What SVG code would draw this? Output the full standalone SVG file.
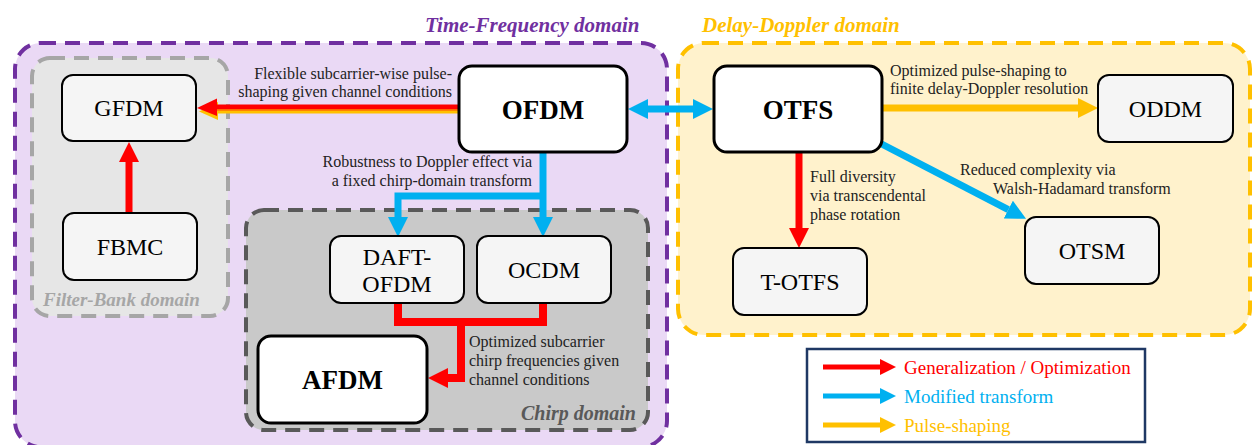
<svg xmlns="http://www.w3.org/2000/svg" width="1252" height="445" viewBox="0 0 1252 445">
<style>
.dom{stroke-width:4;stroke-dasharray:15 9}
.node{fill:#F5F5F5;stroke:#000;stroke-width:2}
.main{fill:#FFFFFF;stroke:#000;stroke-width:3}
.nt{font-family:"Liberation Serif",serif;font-size:24px;fill:#000;text-anchor:middle}
.bt{font-family:"Liberation Serif",serif;font-size:27px;font-weight:bold;fill:#000;text-anchor:middle}
.lbl{font-family:"Liberation Serif",serif;font-size:16px;fill:#222}
.ttl{font-family:"Liberation Serif",serif;font-weight:bold;font-style:italic}
.lg{font-family:"Liberation Serif",serif;font-size:19px}
.r{stroke:#FF0000;fill:none}
.b{stroke:#00B0F0;fill:none}
.y{stroke:#FFC000;fill:none}
</style>
<defs>
<marker id="hr" markerUnits="userSpaceOnUse" markerWidth="20" markerHeight="20" refX="0" refY="10" orient="auto"><path d="M0,0 L20,10 L0,20 z" fill="#FF0000"/></marker>
<marker id="hb" markerUnits="userSpaceOnUse" markerWidth="20" markerHeight="20" refX="0" refY="10" orient="auto-start-reverse"><path d="M0,0 L20,10 L0,20 z" fill="#00B0F0"/></marker>
<marker id="hy" markerUnits="userSpaceOnUse" markerWidth="20" markerHeight="20" refX="0" refY="10" orient="auto"><path d="M0,0 L20,10 L0,20 z" fill="#FFC000"/></marker>
<marker id="lr" markerUnits="userSpaceOnUse" markerWidth="16" markerHeight="16" refX="0" refY="8" orient="auto"><path d="M0,0 L16,8 L0,16 z" fill="#FF0000"/></marker>
<marker id="lb" markerUnits="userSpaceOnUse" markerWidth="16" markerHeight="16" refX="0" refY="8" orient="auto"><path d="M0,0 L16,8 L0,16 z" fill="#00B0F0"/></marker>
<marker id="ly" markerUnits="userSpaceOnUse" markerWidth="16" markerHeight="16" refX="0" refY="8" orient="auto"><path d="M0,0 L16,8 L0,16 z" fill="#FFC000"/></marker>
</defs>

<g id="domains">
<g id="tf-domain">
<rect x="15" y="43" width="652" height="404" rx="26" fill="#EAD9F5" stroke="#7030A0" class="dom"/>
<text x="425" y="32" class="ttl" font-size="21" fill="#7030A0">Time-Frequency domain</text>
</g>
<g id="dd-domain">
<rect x="678" y="43" width="572" height="292" rx="26" fill="#FFF2CC" stroke="#FFC000" class="dom"/>
<text x="702" y="32" class="ttl" font-size="21" fill="#FFC000">Delay-Doppler domain</text>
</g>
<g id="fb-domain">
<rect x="32" y="58" width="196" height="258" rx="18" fill="#E6E6E6" stroke="#A6A6A6" class="dom"/>
<text x="43" y="306" class="ttl" font-size="19" fill="#A6A6A6">Filter-Bank domain</text>
</g>
<g id="chirp-domain">
<rect x="246" y="210" width="402" height="220" rx="18" fill="#C9C9C9" stroke="#595959" class="dom"/>
<text x="636" y="420" class="ttl" font-size="20" fill="#595959" text-anchor="end">Chirp domain</text>
</g>
</g>

<g id="connectors">
<!-- OFDM -> GFDM (mixed) -->
<line x1="460" y1="111" x2="218" y2="111" stroke="#FFC000" stroke-width="5"/>
<path d="M218,102 L199,111.5 L218,120 z" fill="#FFC000"/>
<line x1="460" y1="107.5" x2="217" y2="107.5" stroke="#FF0000" stroke-width="6"/>
<line x1="460" y1="110" x2="217" y2="110" stroke="#FF8C00" stroke-width="1.5"/>
<path d="M217,98.5 L197,108 L217,116 z" fill="#FF0000"/>
<!-- FBMC -> GFDM -->
<line x1="129" y1="214" x2="129" y2="162" class="r" stroke-width="7" marker-end="url(#hr)"/>
<!-- OFDM <-> OTFS -->
<line x1="648" y1="109" x2="693" y2="109" class="b" stroke-width="7" marker-start="url(#hb)" marker-end="url(#hb)"/>
<!-- OFDM -> OCDM / DAFT-OFDM -->
<path d="M543,150 V217" class="b" stroke-width="7" marker-end="url(#hb)"/>
<path d="M543,196 H398 V217" class="b" stroke-width="7" marker-end="url(#hb)"/>
<!-- DAFT/OCDM -> AFDM -->
<path d="M398,302 V322 H543 V302" class="r" stroke-width="8" stroke-linejoin="miter"/>
<path d="M461,322 V378 H448" class="r" stroke-width="8" marker-end="url(#hr)"/>
<!-- OTFS -> ODDM -->
<line x1="880" y1="108" x2="1078" y2="108" class="y" stroke-width="7" marker-end="url(#hy)"/>
<!-- OTFS -> T-OTFS -->
<line x1="799" y1="150" x2="799" y2="228" class="r" stroke-width="7" marker-end="url(#hr)"/>
<!-- OTFS -> OTSM -->
<line x1="872" y1="139" x2="1008.3" y2="209.6" class="b" stroke-width="7" marker-end="url(#hb)"/>
</g>

<g id="labels" class="lbl">
<text x="452" y="79" text-anchor="end">Flexible subcarrier-wise pulse-</text>
<text x="452" y="97" text-anchor="end">shaping given channel conditions</text>
<text x="532" y="167" text-anchor="end">Robustness to Doppler effect via</text>
<text x="532" y="186" text-anchor="end">a fixed chirp-domain transform</text>
<text x="469" y="347">Optimized subcarrier</text>
<text x="469" y="366">chirp frequencies given</text>
<text x="469" y="385">channel conditions</text>
<text x="890" y="76">Optimized pulse-shaping to</text>
<text x="890" y="94">finite delay-Doppler resolution</text>
<text x="810" y="182">Full diversity</text>
<text x="810" y="201">via transcendental</text>
<text x="810" y="220">phase rotation</text>
<text x="960" y="175">Reduced complexity via</text>
<text x="993" y="194">Walsh-Hadamard transform</text>
</g>

<g id="GFDM"><rect x="62" y="75" width="134" height="66" rx="11" class="node"/><text x="129" y="116" class="nt">GFDM</text></g>
<g id="FBMC"><rect x="63" y="213" width="134" height="67" rx="11" class="node"/><text x="130" y="255" class="nt">FBMC</text></g>
<g id="OFDM"><rect x="459" y="66" width="168" height="86" rx="13" class="main"/><text x="543" y="119" class="bt">OFDM</text></g>
<g id="OTFS"><rect x="714" y="66" width="168" height="86" rx="13" class="main"/><text x="798" y="119" class="bt">OTFS</text></g>
<g id="ODDM"><rect x="1098" y="75" width="135" height="67" rx="11" class="node"/><text x="1165.5" y="117" class="nt">ODDM</text></g>
<g id="T-OTFS"><rect x="733" y="248" width="134" height="67" rx="11" class="node"/><text x="800" y="290" class="nt">T-OTFS</text></g>
<g id="OTSM"><rect x="1025" y="217" width="134" height="67" rx="11" class="node"/><text x="1092" y="259" class="nt">OTSM</text></g>
<g id="DAFT-OFDM"><rect x="330" y="236" width="134" height="67" rx="11" class="node"/><text x="397" y="265" class="nt">DAFT-</text><text x="397" y="292" class="nt">OFDM</text></g>
<g id="OCDM"><rect x="477" y="236" width="134" height="67" rx="11" class="node"/><text x="544" y="278" class="nt">OCDM</text></g>
<g id="AFDM"><rect x="258" y="336" width="169" height="87" rx="13" class="main"/><text x="342.5" y="389" class="bt">AFDM</text></g>

<g id="legend">
<rect x="807" y="349" width="338" height="93" fill="#FFFFFF" stroke="#1F3864" stroke-width="2.5"/>
<line x1="823" y1="367" x2="880" y2="367" class="r" stroke-width="5" marker-end="url(#lr)"/>
<line x1="823" y1="396" x2="880" y2="396" class="b" stroke-width="5" marker-end="url(#lb)"/>
<line x1="823" y1="425" x2="880" y2="425" class="y" stroke-width="5" marker-end="url(#ly)"/>
<text x="904" y="374" class="lg" fill="#FF0000">Generalization / Optimization</text>
<text x="904" y="403" class="lg" fill="#00B0F0">Modified transform</text>
<text x="904" y="432" class="lg" fill="#FFC000">Pulse-shaping</text>
</g>
</svg>
